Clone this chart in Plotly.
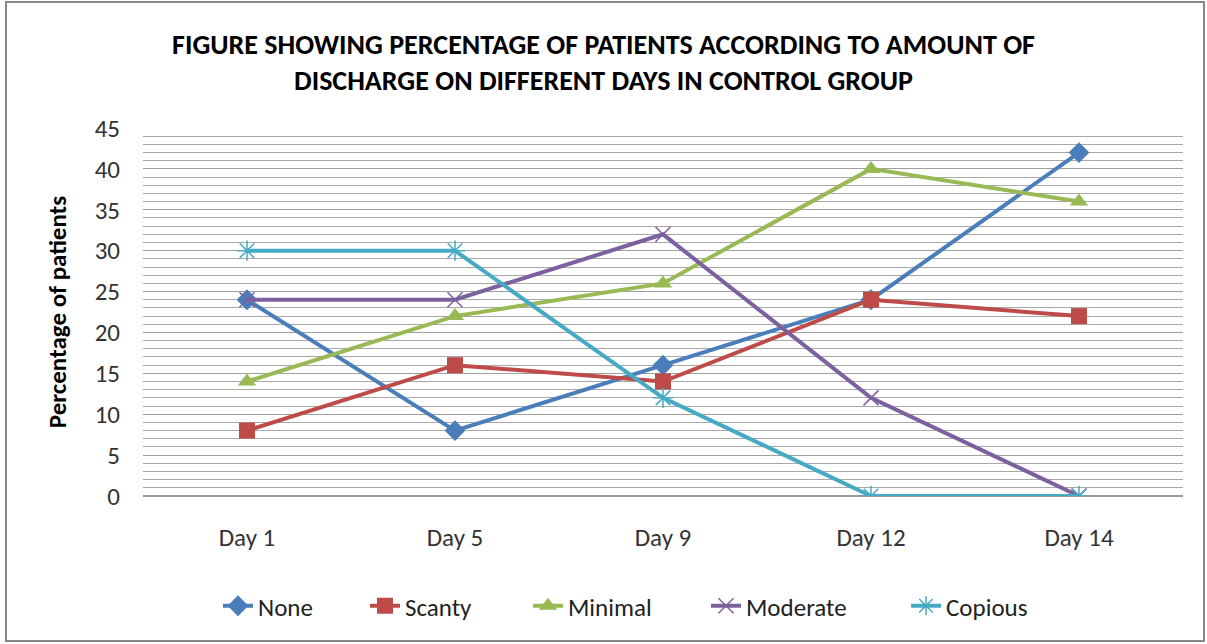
import plotly.graph_objects as go

days = ["Day 1", "Day 5", "Day 9", "Day 12", "Day 14"]
none_vals = [24, 8, 16, 24, 42]
scanty_vals = [8, 16, 14, 24, 22]
minimal_vals = [14, 22, 26, 40, 36]
moderate_vals = [24, 24, 32, 12, 0]
copious_vals = [30, 30, 12, 0, 0]

series = [
    ("None", none_vals, "#4A7EBB", "diamond", 16, 0),
    ("Scanty", scanty_vals, "#BE4B48", "square", 16, 0),
    ("Minimal", minimal_vals, "#98B954", "triangle-up", 16, 0),
    ("Moderate", moderate_vals, "#7D60A0", "x-thin", 15, 1.5),
    ("Copious", copious_vals, "#46AAC5", "asterisk", 17, 1.5),
]
legend_px = [226, 373, 536, 714, 914]

W, H = 1207, 644
L, R, T, B = 143, 24, 128, 148
pw, ph = W - L - R, H - T - B


def px_x(p):
    return (p - L) / pw


def px_y(p):
    return (H - B - p) / ph


fig = go.Figure()
legend_layout = {}
for i, (name, vals, color, sym, size, lw) in enumerate(series):
    key = "legend" if i == 0 else f"legend{i + 1}"
    fig.add_trace(go.Scatter(
        x=days, y=vals, name=name, mode="lines+markers",
        line=dict(color=color, width=4),
        marker=dict(symbol=sym, size=size, color=color,
                    line=dict(color=color, width=lw)),
        legend=key,
    ))
    legend_layout[key] = dict(
        x=px_x(legend_px[i] - 8), xanchor="left", y=px_y(606), yanchor="middle",
        font=dict(size=25, color="#222"), bgcolor="rgba(0,0,0,0)",
    )

fig.update_layout(
    width=W, height=H,
    margin=dict(l=L, r=R, t=T, b=B),
    paper_bgcolor="white", plot_bgcolor="white",
    title=dict(
        text="FIGURE SHOWING PERCENTAGE OF PATIENTS ACCORDING TO AMOUNT OF<br>DISCHARGE ON DIFFERENT DAYS IN CONTROL GROUP",
        x=0.5, xanchor="center", y=1 - 54 / H, yanchor="middle",
        font=dict(family="Carlito, Calibri, Lato, sans-serif", size=28, color="black", weight="bold"),
    ),
    font=dict(family="Carlito, Calibri, Lato, sans-serif", color="#222"),
    xaxis=dict(
        type="category", range=[-0.5, 4.5], showgrid=False,
        showline=False, ticks="", tickfont=dict(size=25, color="#333"),
        ticklabelstandoff=24,
    ),
    yaxis=dict(
        range=[0, 45], dtick=5, tickfont=dict(size=25, color="#333"),
        showgrid=True, gridcolor="#A0A0A0", gridwidth=1,
        minor=dict(dtick=1, showgrid=True, gridcolor="#A8A8A8", gridwidth=1),
        zeroline=True, zerolinecolor="#999", zerolinewidth=2,
        ticklabelstandoff=22,
        title=dict(text="<b>Percentage of patients</b>", font=dict(size=25, color="black"), standoff=20),
    ),
    showlegend=True,
    shapes=[dict(
        type="rect", xref="paper", yref="paper",
        x0=px_x(6), x1=px_x(1204), y0=px_y(641), y1=px_y(2),
        line=dict(color="#888", width=2), fillcolor="rgba(0,0,0,0)", layer="below",
    )],
    **legend_layout,
)

fig.write_html("out.html")
